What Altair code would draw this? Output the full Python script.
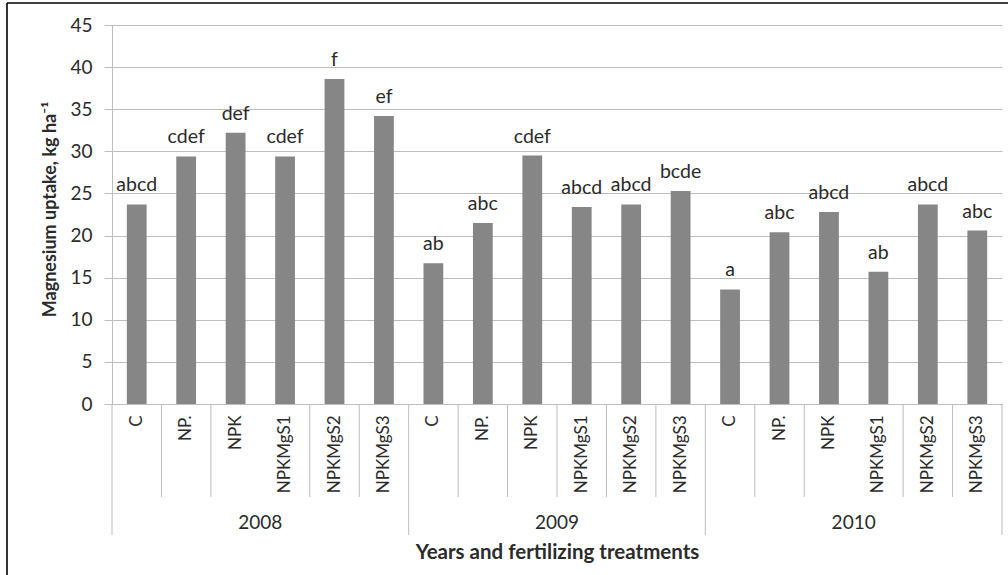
import altair as alt
import pandas as pd

# Magnesium uptake by year and fertilizing treatment
years = ["2008"] * 6 + ["2009"] * 6 + ["2010"] * 6
treatments = ["C", "NP.", "NPK", "NPKMgS1", "NPKMgS2", "NPKMgS3"] * 3
uptake = [23.7, 29.4, 32.2, 29.4, 38.6, 34.2,
          16.7, 21.5, 29.5, 23.4, 23.7, 25.3,
          13.6, 20.4, 22.8, 15.7, 23.7, 20.6]
letters = ["abcd", "cdef", "def", "cdef", "f", "ef",
           "ab", "abc", "cdef", "abcd", "abcd", "bcde",
           "a", "abc", "abcd", "ab", "abcd", "abc"]
# short divider drawn on the left side of a category
left_divider = [False, True, True, False, True, True,
                False, True, True, True, True, True,
                False, True, True, False, True, True]

df = pd.DataFrame({
    "year": years,
    "treatment": treatments,
    "uptake": uptake,
    "letters": letters,
    "divider": left_divider,
})
df["key"] = df["year"] + "|" + df["treatment"]
order = list(df["key"])

W, H = 890, 379
FONT = "Lato"
TEXT = "#2b2b2b"
GRID = "#bdbdbd"

xscale = alt.Scale(domain=order, paddingInner=0, paddingOuter=0)
x_axis = alt.Axis(
    labelAngle=270, labelAlign="right", labelBaseline="middle",
    labelPadding=11, labelFontSize=17, labelColor=TEXT, labelFont=FONT,
    labelExpr="split(datum.label, '|')[1]",
    ticks=False, domainColor=GRID, grid=False,
    title="Years and fertilizing treatments", titleFont=FONT,
    titleFontSize=20.5, titleFontWeight="bold", titleColor=TEXT,
    titleY=148, titleBaseline="middle",
)
y_axis = alt.Axis(
    values=list(range(0, 50, 5)), labelFontSize=19, labelColor=TEXT,
    labelFont=FONT, labelPadding=12, tickSize=8, tickColor=GRID,
    domainColor=GRID, gridColor=GRID,
    title="Magnesium uptake, kg ha⁻¹", titleFont=FONT, titleFontSize=18,
    titleFontWeight="bold", titleColor=TEXT, titleX=-62, titleY=184,
    titleAlign="center", titleBaseline="middle",
)

base = alt.Chart(df)

bars = base.mark_bar(width={"band": 0.4}, color="#868686").encode(
    x=alt.X("key:N", scale=xscale, axis=x_axis, sort=order),
    y=alt.Y("uptake:Q", scale=alt.Scale(domain=[0, 45], nice=False), axis=y_axis),
)

labels = base.mark_text(
    font=FONT, fontSize=19.5, color=TEXT, baseline="alphabetic", dy=-13
).encode(
    x=alt.X("key:N", sort=order),
    y="uptake:Q",
    text="letters:N",
)

short_div = base.transform_filter("datum.divider").mark_rule(
    color=GRID, strokeWidth=1
).encode(
    x=alt.X("key:N", sort=order, bandPosition=0),
    y=alt.value(H),
    y2=alt.value(H + 93),
)

long_div = base.transform_filter("datum.treatment == 'C'").mark_rule(
    color=GRID, strokeWidth=1
).encode(
    x=alt.X("key:N", sort=order, bandPosition=0),
    y=alt.value(H),
    y2=alt.value(H + 131),
)

end_div = base.transform_filter(alt.datum.key == order[-1]).mark_rule(
    color=GRID, strokeWidth=1
).encode(
    x=alt.X("key:N", sort=order, bandPosition=1),
    y=alt.value(H),
    y2=alt.value(H + 131),
)

year_labels = base.transform_filter("datum.treatment == 'NPKMgS1'").mark_text(
    font=FONT, fontSize=19, color=TEXT, baseline="middle"
).encode(
    x=alt.X("key:N", sort=order, bandPosition=0),
    y=alt.value(H + 119),
    text="year:N",
)

frame_top = base.transform_filter(alt.datum.key == order[0]).mark_rule(
    color="#000000", strokeWidth=1.6
).encode(x=alt.value(-105), x2=alt.value(W + 6), y=alt.value(-22))

frame_left = base.transform_filter(alt.datum.key == order[0]).mark_rule(
    color="#000000", strokeWidth=1.6
).encode(x=alt.value(-105), y=alt.value(-22), y2=alt.value(H + 171))

chart = alt.layer(
    bars, labels, short_div, long_div, end_div, year_labels, frame_top, frame_left
).properties(
    width=W, height=H,
    autosize=alt.AutoSizeParams(type="none"),
    padding={"left": 112, "top": 25, "right": 6, "bottom": 171},
    background="white",
).configure_view(stroke=None)

chart.save("out.html", embed_options={"renderer": "svg", "actions": False})
